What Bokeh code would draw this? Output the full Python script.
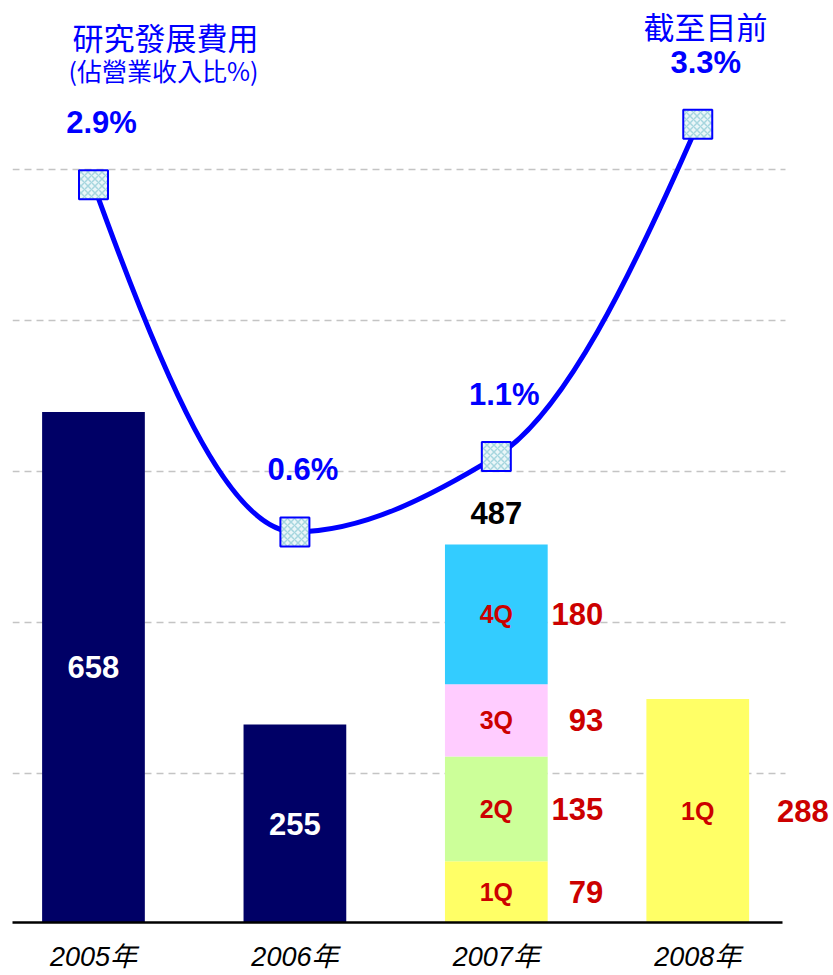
import numpy as np
from bokeh.plotting import figure
from bokeh.models import (Range1d, FixedTicker, Grid, SingleIntervalTicker,
                          ColumnDataSource, LabelSet, Label)
from bokeh.core.properties import value
from bokeh.embed import file_html
from bokeh.resources import INLINE

# ---------------- data ----------------
years = ["2005年", "2006年", "2007年", "2008年"]
annual_rd = [658, 255, 487, 288]          # R&D expense per year
quarters = ["1Q", "2Q", "3Q", "4Q"]
rd_2007_q = [79, 135, 93, 180]
rd_2008_q = [288]
rd_ratio_pct = [2.9, 0.6, 1.1, 3.3]       # R&D as % of revenue
quarter_colors = ["#ffff66", "#ccff99", "#ffccff", "#33ccff"]
title_main = "研究發展費用"
title_sub = "(佔營業收入比%)"
title_right = "截至目前"

# ---------------- styling ----------------
NAVY = "#000066"
BLUE = "#0000ff"
RED = "#cc0000"
NUM_FONT = "Liberation Sans"
CJK_FONT = "Noto Sans CJK TC"
BAR_W = 0.51

xi = list(range(len(years)))

xr = Range1d(-0.402, 3.664)
yr = Range1d(0, 1183)
AXIS_END = 3.421      # where the baseline stops (data units)
GRID_END = 3.436      # where the dashed lines stop

p = figure(frame_width=819, frame_height=918,
           min_border_left=12, min_border_right=2, min_border_top=4, min_border_bottom=0,
           x_range=xr, y_range=yr, y_axis_location=None,
           toolbar_location=None, output_backend="svg",
           outline_line_color=None, background_fill_color="white")
p.extra_y_ranges = {"pct": Range1d(-1.987, 4.093)}
p.grid.visible = False

# dashed gridlines (one per percentage point of the ratio axis)
p.add_layout(Grid(dimension=1, y_range_name="pct",
                  ticker=SingleIntervalTicker(interval=1), bounds=(-1.5, 3.5),
                  cross_bounds=(xr.start, GRID_END),
                  grid_line_color="#c4c4c4", grid_line_dash="7 5", grid_line_width=1.5))

# ---------------- bars ----------------
full_src = ColumnDataSource(dict(x=xi[:2], top=annual_rd[:2],
                                 mid=[v / 2 for v in annual_rd[:2]],
                                 t=[str(v) for v in annual_rd[:2]]))
p.vbar(x="x", top="top", bottom=0, width=BAR_W, fill_color=NAVY, line_color=None, source=full_src)
p.add_layout(LabelSet(x="x", y="mid", text="t", source=full_src, text_align="center",
                      text_baseline="middle", text_color="white", text_font=value(NUM_FONT),
                      text_font_style="bold", text_font_size="31px"))


def quarter_stack(xpos, vals):
    edges = np.concatenate([[0], np.cumsum(vals)])
    n = len(vals)
    return ColumnDataSource(dict(x=[xpos] * n, bottom=edges[:-1], top=edges[1:],
                                 mid=(edges[:-1] + edges[1:]) / 2,
                                 color=quarter_colors[:n], q=quarters[:n],
                                 val=[str(v) for v in vals]))


for xpos, vals, val_off in ((xi[2], rd_2007_q, 107), (xi[3], rd_2008_q, 131)):
    src = quarter_stack(xpos, vals)
    p.vbar(x="x", bottom="bottom", top="top", width=BAR_W, fill_color="color",
           line_color=None, source=src)
    p.add_layout(LabelSet(x="x", y="mid", text="q", source=src, text_align="center",
                          text_baseline="middle", text_color=RED, text_font=value(NUM_FONT),
                          text_font_style="bold", text_font_size="25px"))
    p.add_layout(LabelSet(x="x", y="mid", text="val", source=src, text_align="right",
                          x_offset=val_off, text_baseline="middle", text_color=RED,
                          text_font=value(NUM_FONT), text_font_style="bold",
                          text_font_size="31px"))

# total above the 2007 stack
p.add_layout(Label(x=xi[2], y=annual_rd[2], text=str(annual_rd[2]), y_offset=32,
                   text_align="center", text_baseline="middle", text_color="black",
                   text_font=NUM_FONT, text_font_style="bold", text_font_size="31px"))

# ---------------- ratio line (smooth, shape preserving) ----------------
x = np.array(xi, dtype=float)
v = np.array(rd_ratio_pct, dtype=float)
h = np.diff(x)
d = np.diff(v) / h
m = np.zeros_like(v)
for k in range(1, len(v) - 1):
    if d[k - 1] * d[k] > 0:
        w1 = 2 * h[k] + h[k - 1]
        w2 = h[k] + 2 * h[k - 1]
        m[k] = (w1 + w2) / (w1 / d[k - 1] + w2 / d[k])


def end_slope(h0, h1, d0, d1):
    s = ((2 * h0 + h1) * d0 - h0 * d1) / (h0 + h1)
    if np.sign(s) != np.sign(d0):
        return 0.0
    if np.sign(d0) != np.sign(d1) and abs(s) > 3 * abs(d0):
        return 3 * d0
    return s


m[0] = end_slope(h[0], h[1], d[0], d[1])
m[-1] = end_slope(h[-1], h[-2], d[-1], d[-2])

p.bezier(x0=x[:-1], y0=v[:-1], x1=x[1:], y1=v[1:],
         cx0=x[:-1] + h / 3, cy0=v[:-1] + m[:-1] * h / 3,
         cx1=x[1:] - h / 3, cy1=v[1:] - m[1:] * h / 3,
         line_color=BLUE, line_width=5, y_range_name="pct")

p.scatter(x=xi, y=rd_ratio_pct, marker="square", size=29, y_range_name="pct",
          fill_color="#eaf6f8", line_color=BLUE, line_width=2,
          hatch_pattern="diagonal_cross", hatch_color="#a6d6de", hatch_scale=7,
          hatch_weight=1.5)

pct_src = ColumnDataSource(dict(x=xi, y=rd_ratio_pct, t=[f"{r:.1f}%" for r in rd_ratio_pct]))
p.add_layout(LabelSet(x="x", y="y", text="t", source=pct_src, y_range_name="pct",
                      x_offset=8, y_offset=62, text_align="center", text_baseline="middle",
                      text_color=BLUE, text_font=value(NUM_FONT), text_font_style="bold",
                      text_font_size="31px"))

# ---------------- titles ----------------
p.add_layout(Label(x=xr.start, y=yr.end, x_offset=60, y_offset=-32, text=title_main,
                   text_align="left", text_baseline="middle", text_color=BLUE,
                   text_font=CJK_FONT, text_font_size="31px"))
p.add_layout(Label(x=xr.start, y=yr.end, x_offset=56, y_offset=-65, text=title_sub,
                   text_align="left", text_baseline="middle", text_color=BLUE,
                   text_font=CJK_FONT, text_font_size="25px"))
p.add_layout(Label(x=xr.end, y=yr.end, x_offset=-126, y_offset=-21, text=title_right,
                   text_align="center", text_baseline="middle", text_color=BLUE,
                   text_font=CJK_FONT, text_font_size="31px"))

# ---------------- x axis ----------------
ax = p.xaxis[0]
ax.ticker = FixedTicker(ticks=xi)
ax.bounds = (xr.start, AXIS_END)
ax.major_label_overrides = {i: yname for i, yname in zip(xi, years)}
ax.axis_line_color = "black"
ax.axis_line_width = 2.5
ax.major_tick_line_color = None
ax.minor_tick_line_color = None
ax.major_label_standoff = 13
ax.major_label_text_font = f"{NUM_FONT}, '{CJK_FONT}'"
ax.major_label_text_font_style = "italic"
ax.major_label_text_font_size = "27px"
ax.major_label_text_color = "black"

open("out.html", "w").write(file_html(p, INLINE))
